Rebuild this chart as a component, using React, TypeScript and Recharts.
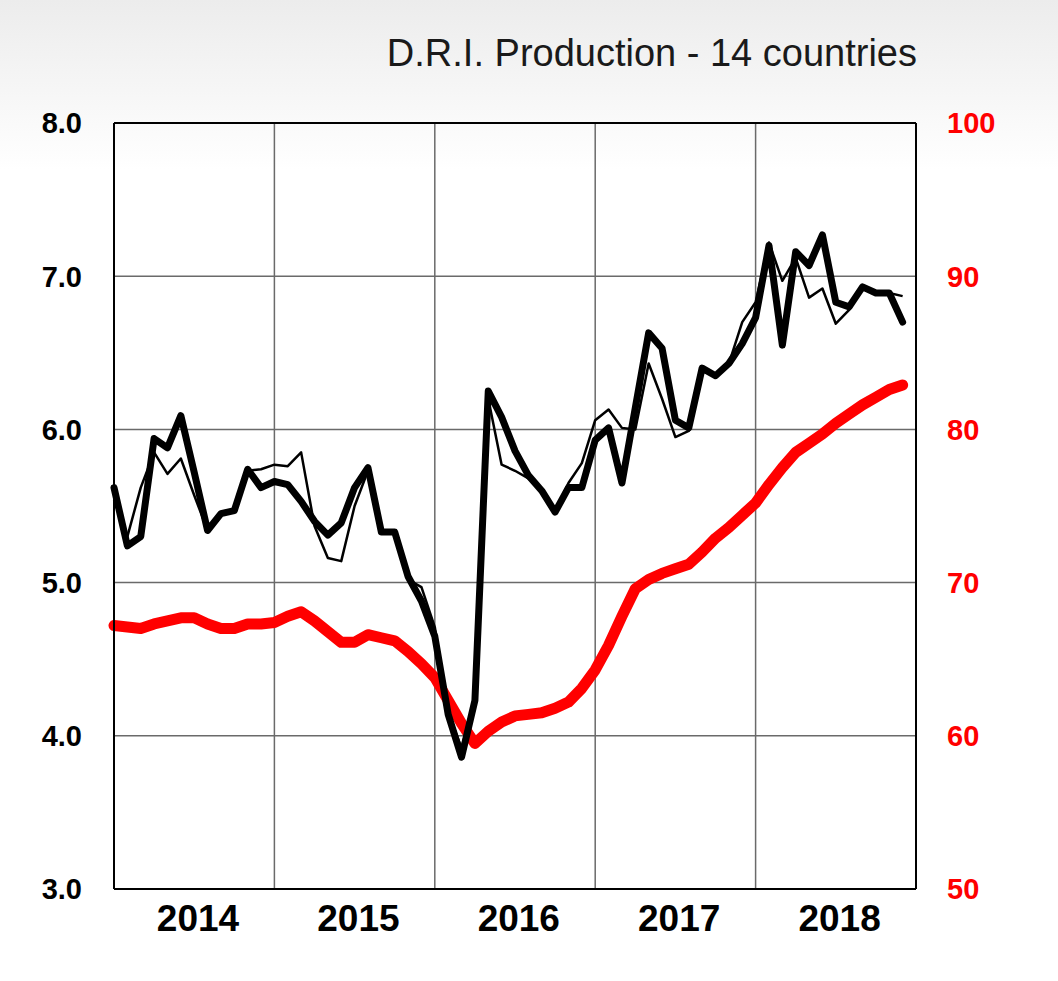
import { LineChart, Line, XAxis, YAxis, CartesianGrid, ReferenceLine } from 'recharts';

// monthly values, Jan 2014 .. Dec 2018
const YEARS = ['2014', '2015', '2016', '2017', '2018'];

const monthlyThick = [
  5.62, 5.24, 5.30, 5.94, 5.88, 6.09, 5.72, 5.34, 5.45, 5.47, 5.74, 5.62,
  5.66, 5.64, 5.53, 5.40, 5.31, 5.39, 5.62, 5.75, 5.33, 5.33, 5.04, 4.88,
  4.65, 4.14, 3.86, 4.23, 6.25, 6.08, 5.86, 5.70, 5.60, 5.46, 5.62, 5.62,
  5.93, 6.01, 5.65, 6.14, 6.63, 6.53, 6.06, 6.01, 6.40, 6.35, 6.43, 6.56,
  6.73, 7.20, 6.55, 7.16, 7.07, 7.27, 6.83, 6.80, 6.93, 6.89, 6.89, 6.70,
];

const monthlyThin = [
  5.54, 5.30, 5.62, 5.85, 5.71, 5.81, 5.57, 5.34, 5.45, 5.47, 5.73, 5.74,
  5.77, 5.76, 5.85, 5.37, 5.16, 5.14, 5.50, 5.73, 5.33, 5.33, 5.02, 4.97,
  4.71, 4.15, 3.92, 4.25, 6.20, 5.77, 5.73, 5.68, 5.60, 5.47, 5.65, 5.78,
  6.06, 6.13, 6.01, 6.00, 6.43, 6.20, 5.95, 5.99, 6.40, 6.35, 6.43, 6.70,
  6.83, 7.22, 6.97, 7.12, 6.86, 6.92, 6.69, 6.78, 6.93, 6.89, 6.89, 6.87,
];

const trend12 = [
  67.2, 67.1, 67.0, 67.3, 67.5, 67.7, 67.7, 67.3, 67.0, 67.0, 67.3, 67.3,
  67.4, 67.8, 68.1, 67.5, 66.8, 66.1, 66.1, 66.6, 66.4, 66.2, 65.5, 64.7,
  63.8, 62.3, 60.8, 59.5, 60.3, 60.9, 61.3, 61.4, 61.5, 61.8, 62.2, 63.1,
  64.3, 65.9, 67.8, 69.6, 70.2, 70.6, 70.9, 71.2, 72.0, 72.9, 73.6, 74.4,
  75.2, 76.4, 77.5, 78.5, 79.1, 79.7, 80.4, 81.0, 81.6, 82.1, 82.6, 82.9,
];

const LEFT_TICKS = [3, 4, 5, 6, 7, 8];
const RIGHT_TICKS = [50, 60, 70, 80, 90, 100];
const YEAR_TICKS = [0, 12, 24, 36, 48, 60];

const FONT = '"Liberation Sans", Arial, sans-serif';

const data = monthlyThick.map((v, i) => ({
  m: i,
  thick: v,
  thin: monthlyThin[i],
  trend: trend12[i],
}));

const YearTick = ({ x, y, payload }: any) => {
  const idx = payload.value / 12;
  if (idx >= YEARS.length) return null;
  return (
    <text x={x + 84} y={y + 29} dy="0.36em" textAnchor="middle"
      fontFamily={FONT} fontWeight={700} fontSize={37} fill="#000">
      {YEARS[idx]}
    </text>
  );
};

const LeftTick = ({ x, y, payload }: any) => (
  <text x={x} y={y} dy="0.36em" textAnchor="end"
    fontFamily={FONT} fontWeight={700} fontSize={29} fill="#000">
    {payload.value.toFixed(1)}
  </text>
);

const RightTick = ({ x, y, payload }: any) => (
  <text x={x} y={y} dy="0.36em" textAnchor="start"
    fontFamily={FONT} fontWeight={700} fontSize={29} fill="#ff0000">
    {payload.value}
  </text>
);

export default function App() {
  return (
    <div style={{
      position: 'absolute', left: 0, top: 0, width: 1058, height: 981,
      background: 'linear-gradient(#ececec 0px, #ffffff 170px)',
    }}>
      <div style={{
        position: 'absolute', right: 141, top: 35, fontFamily: FONT,
        fontSize: 38, lineHeight: '37px', color: '#1a1a1a', whiteSpace: 'nowrap',
      }}>
        D.R.I. Production - 14 countries
      </div>
      <div style={{ position: 'absolute', left: 0, top: 0 }}>
        <LineChart width={1058} height={981} data={data}
          margin={{ top: 123, right: 0, bottom: 32, left: 0 }}>
          <CartesianGrid yAxisId="left" stroke="#6a6a6a" strokeWidth={1.5}
            horizontalValues={LEFT_TICKS} />
          <XAxis dataKey="m" type="number" domain={[0, 60]} ticks={YEAR_TICKS}
            height={60} tickSize={0} tickMargin={0} tick={<YearTick />}
            axisLine={{ stroke: '#000', strokeWidth: 2 }} tickLine={false} />
          <YAxis yAxisId="left" domain={[3, 8]} ticks={LEFT_TICKS} width={114}
            tickSize={0} tickMargin={32} tick={<LeftTick />}
            axisLine={{ stroke: '#000', strokeWidth: 2 }} tickLine={false} />
          <YAxis yAxisId="right" orientation="right" domain={[50, 100]} ticks={RIGHT_TICKS}
            width={142} tickSize={0} tickMargin={31} tick={<RightTick />}
            axisLine={{ stroke: '#000', strokeWidth: 2 }} tickLine={false} />
          <ReferenceLine yAxisId="left" y={8} stroke="#000" strokeWidth={2} />
          <Line yAxisId="right" dataKey="trend" type="linear" stroke="#ff0000"
            strokeWidth={11} dot={false} strokeLinejoin="round" strokeLinecap="round"
            isAnimationActive={false} />
          <Line yAxisId="left" dataKey="thick" type="linear" stroke="#000"
            strokeWidth={7} dot={false} strokeLinejoin="round" strokeLinecap="round"
            isAnimationActive={false} />
          <Line yAxisId="left" dataKey="thin" type="linear" stroke="#000"
            strokeWidth={2.5} dot={false} strokeLinejoin="round"
            isAnimationActive={false} />
        </LineChart>
      </div>
    </div>
  );
}
